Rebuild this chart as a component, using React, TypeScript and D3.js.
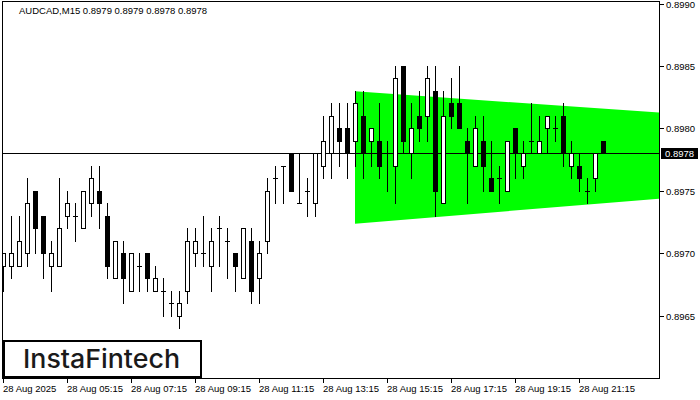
import React from 'react';
import * as d3 from 'd3';

const symbolLabel = 'AUDCAD,M15';
const lastBarValues = ['0.8979', '0.8979', '0.8978', '0.8978'];

const openPrices = [
  0.8969, 0.8969, 0.8969, 0.8970, 0.8975, 0.8973, 0.8969, 0.8969, 0.8973, 0.8973,
  0.8972, 0.8974, 0.8975, 0.8973, 0.8968, 0.8970, 0.8967, 0.8969, 0.8970, 0.8967,
  0.8967, 0.8966, 0.8965, 0.8967, 0.8970, 0.8970, 0.8969, 0.8972, 0.8971, 0.8970,
  0.8968, 0.8971, 0.8968, 0.8971, 0.8976, 0.8977, 0.8978, 0.8974, 0.8975, 0.8974,
  0.8977, 0.8978, 0.8980, 0.8980, 0.8979, 0.8981, 0.8979, 0.8979, 0.8978, 0.8977,
  0.8985, 0.8978, 0.8981, 0.8981, 0.8983, 0.8974, 0.8982, 0.8982, 0.8979, 0.8977,
  0.8979, 0.8976, 0.8976, 0.8975, 0.8980, 0.8977, 0.8979, 0.8978, 0.8980, 0.8980,
  0.8981, 0.8977, 0.8977, 0.8975, 0.8976, 0.8979,
];
const highPrices = [
  0.8970, 0.8973, 0.8973, 0.8976, 0.8975, 0.8973, 0.8971, 0.8976, 0.8975, 0.8974,
  0.8975, 0.8977, 0.8977, 0.8974, 0.8971, 0.8971, 0.8970, 0.8970, 0.8970, 0.8969,
  0.8968, 0.8967, 0.8967, 0.8972, 0.8972, 0.8973, 0.8972, 0.8973, 0.8972, 0.8970,
  0.8972, 0.8972, 0.8971, 0.8976, 0.8977, 0.8977, 0.8978, 0.8978, 0.8976, 0.8978,
  0.8981, 0.8982, 0.8982, 0.8982, 0.8983, 0.8983, 0.8980, 0.8982, 0.8979, 0.8985,
  0.8985, 0.8982, 0.8983, 0.8985, 0.8985, 0.8983, 0.8984, 0.8985, 0.8980, 0.8981,
  0.8981, 0.8979, 0.8977, 0.8979, 0.8980, 0.8979, 0.8982, 0.8981, 0.8981, 0.8981,
  0.8982, 0.8979, 0.8978, 0.8976, 0.8978, 0.8979,
];
const lowPrices = [
  0.8967, 0.8968, 0.8969, 0.8969, 0.8970, 0.8968, 0.8967, 0.8969, 0.8972, 0.8971,
  0.8972, 0.8973, 0.8972, 0.8968, 0.8968, 0.8966, 0.8967, 0.8967, 0.8967, 0.8967,
  0.8965, 0.8965, 0.8964, 0.8966, 0.8969, 0.8969, 0.8967, 0.8969, 0.8968, 0.8967,
  0.8968, 0.8966, 0.8966, 0.8970, 0.8974, 0.8974, 0.8975, 0.8974, 0.8973, 0.8973,
  0.8976, 0.8976, 0.8977, 0.8976, 0.8977, 0.8976, 0.8977, 0.8976, 0.8975, 0.8974,
  0.8978, 0.8976, 0.8979, 0.8979, 0.8973, 0.8974, 0.8980, 0.8980, 0.8974, 0.8977,
  0.8975, 0.8975, 0.8974, 0.8975, 0.8976, 0.8976, 0.8978, 0.8978, 0.8978, 0.8979,
  0.8977, 0.8976, 0.8975, 0.8974, 0.8975, 0.8978,
];
const closePrices = [
  0.8970, 0.8970, 0.8971, 0.8974, 0.8972, 0.8970, 0.8970, 0.8972, 0.8974, 0.8973,
  0.8975, 0.8976, 0.8974, 0.8969, 0.8971, 0.8968, 0.8970, 0.8969, 0.8968, 0.8968,
  0.8967, 0.8966, 0.8966, 0.8971, 0.8971, 0.8970, 0.8971, 0.8972, 0.8971, 0.8969,
  0.8972, 0.8967, 0.8970, 0.8975, 0.8976, 0.8977, 0.8975, 0.8974, 0.8975, 0.8978,
  0.8979, 0.8981, 0.8979, 0.8978, 0.8982, 0.8978, 0.8980, 0.8977, 0.8978, 0.8984,
  0.8979, 0.8980, 0.8980, 0.8984, 0.8975, 0.8981, 0.8981, 0.8980, 0.8978, 0.8980,
  0.8977, 0.8975, 0.8976, 0.8979, 0.8978, 0.8978, 0.8979, 0.8979, 0.8981, 0.8980,
  0.8978, 0.8978, 0.8976, 0.8975, 0.8978, 0.8978,
];

const xTickIndices = [0, 8, 16, 24, 32, 40, 48, 56, 64, 72];
const xTickLabels = [
  '28 Aug 2025', '28 Aug 05:15', '28 Aug 07:15', '28 Aug 09:15', '28 Aug 11:15',
  '28 Aug 13:15', '28 Aug 15:15', '28 Aug 17:15', '28 Aug 19:15', '28 Aug 21:15',
];
const yTickValues = [0.8965, 0.897, 0.8975, 0.898, 0.8985, 0.899];
const currentPrice = 0.8978;

const patternIndices = [44, 82];
const patternUpper = [0.8983, 0.89813];
const patternLower = [0.89724, 0.89744];

const FONT = '"Liberation Sans", Arial, sans-serif';

export default function App() {
  const W = 700;
  const H = 400;
  const frameL = 2, frameR = 659, frameT = 1, frameB = 378;
  const n = openPrices.length;
  const x = d3.scaleLinear().domain([0, n - 1]).range([3, 3 + 8 * (n - 1)]);
  const y = d3.scaleLinear().domain([0.8965, 0.899]).range([316, 4]);
  const py = (v: number) => Math.floor(y(v) + 1e-6);

  const polyPts = [
    [x(patternIndices[0]), y(patternUpper[0])],
    [x(patternIndices[1]), y(patternUpper[1])],
    [x(patternIndices[1]), y(patternLower[1])],
    [x(patternIndices[0]), y(patternLower[0])],
  ];
  const polyPath = d3.line()(polyPts as [number, number][]) + 'Z';

  const candles = openPrices.map((o, i) => {
    const c = closePrices[i];
    const h = highPrices[i];
    const l = lowPrices[i];
    const cx = Math.round(x(i));
    const yH = py(h), yL = py(l), yO = py(o), yC = py(c);
    const top = Math.min(yO, yC);
    const bot = Math.max(yO, yC);
    let body;
    if (o === c) {
      body = <line x1={cx - 2} x2={cx + 3} y1={yO + 0.5} y2={yO + 0.5} stroke="#000" strokeWidth={1} />;
    } else if (c > o) {
      body = <rect x={cx - 1.5} y={top + 0.5} width={4} height={bot - top} fill="#fff" stroke="#000" strokeWidth={1} />;
    } else {
      body = <rect x={cx - 2} y={top} width={5} height={bot - top + 1} fill="#000" />;
    }
    return (
      <g key={i}>
        <line x1={cx + 0.5} x2={cx + 0.5} y1={yH} y2={yL + 1} stroke="#000" strokeWidth={1} />
        {body}
      </g>
    );
  });

  const curY = py(currentPrice);

  return (
    <svg width={W} height={H} style={{ position: 'absolute', left: 0, top: 0, background: '#fff' }}
      shapeRendering="crispEdges">
      <rect x={0} y={0} width={W} height={H} fill="#fff" />
      <defs>
        <clipPath id="plot">
          <rect x={frameL} y={frameT} width={frameR - frameL} height={frameB - frameT} />
        </clipPath>
      </defs>
      <g clipPath="url(#plot)">
        <path d={polyPath} fill="#00ff00" shapeRendering="geometricPrecision" />
        <line x1={frameL} x2={frameR} y1={curY + 0.5} y2={curY + 0.5} stroke="#000" strokeWidth={1} />
        {candles}
      </g>
      <rect x={frameL + 0.5} y={frameT + 0.5} width={frameR - frameL} height={frameB - frameT} fill="none" stroke="#000" strokeWidth={1} />

      <text x={19} y={14} fontFamily={FONT} fontSize={9.5} fill="#000" shapeRendering="auto">
        {symbolLabel + '  ' + lastBarValues.join(' ')}
      </text>

      {yTickValues.map((v) => {
        const ty = py(v);
        return (
          <g key={v}>
            <line x1={frameR + 1} x2={frameR + 5} y1={ty + 0.5} y2={ty + 0.5} stroke="#000" />
            <text x={666} y={ty + 4} fontFamily={FONT} fontSize={9.5} fill="#000">{v.toFixed(4)}</text>
          </g>
        );
      })}
      <rect x={661} y={curY - 5} width={37} height={11} fill="#000" />
      <text x={665} y={curY + 4} fontFamily={FONT} fontSize={9.5} fill="#fff">{currentPrice.toFixed(4)}</text>

      {xTickIndices.map((idx, k) => {
        const tx = Math.round(x(idx));
        return (
          <g key={idx}>
            <line x1={tx + 0.5} x2={tx + 0.5} y1={frameB + 1} y2={frameB + 5} stroke="#000" />
            <text x={tx} y={392} fontFamily={FONT} fontSize={9.5} fill="#000">{xTickLabels[k]}</text>
          </g>
        );
      })}

      <rect x={4} y={341} width={197} height={36} fill="#fff" stroke="#000" strokeWidth={2} />
      <text x={23} y={368} fontFamily="Inter, Lato, 'Open Sans', sans-serif" fontWeight={500} fontSize={26}
        textLength={157} lengthAdjust="spacingAndGlyphs" fill="#1a1a1a" shapeRendering="auto">InstaFintech</text>
    </svg>
  );
}
